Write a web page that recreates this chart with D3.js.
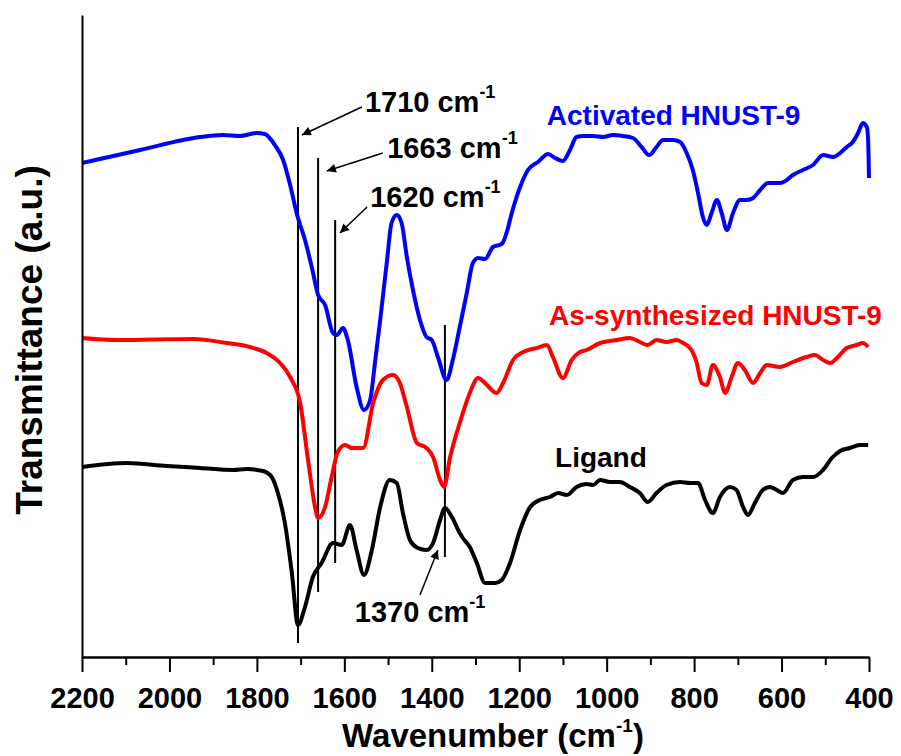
<!DOCTYPE html>
<html lang='en'>
<head>
<meta charset="utf-8">
<script src="https://d3js.org/d3.v7.min.js"></script>
<style>
*{margin:0;padding:0}
body{background:#fff}
svg{display:block;font-family:'Liberation Sans',Arial,sans-serif;font-weight:bold}
</style>
</head>
<body>
<script>
// FTIR spectra, [wavenumber cm-1, transmittance a.u. (offset)]
const activated=[[2200,494],[2067,507],[1930,520],[1878,522],[1839,521],[1800,524],[1782,523],[1759,512],[1740,497],[1724,472],[1708,442],[1690,417],[1674,389],[1660,362],[1644,352],[1626,324],[1617,322],[1603,329],[1592,317],[1572,270],[1555,247],[1541,257],[1530,294],[1518,337],[1503,394],[1492,434],[1480,442],[1469,434],[1457,400],[1443,367],[1427,337],[1412,320],[1400,317],[1386,300],[1366,277],[1352,297],[1336,330],[1320,364],[1306,394],[1294,399],[1278,398],[1260,410],[1240,413],[1229,424],[1217,444],[1198,470],[1180,487],[1157,495],[1134,503],[1118,499],[1100,496],[1084,507],[1069,520],[1054,521],[1031,521],[1008,520],[986,522],[963,521],[940,519],[920,510],[903,502],[886,510],[871,517],[848,517],[832,515],[817,504],[803,487],[791,464],[780,440],[771,432],[760,444],[748,457],[737,444],[725,427],[711,444],[695,457],[680,457],[665,459],[649,467],[631,474],[604,474],[588,477],[574,482],[551,487],[528,492],[505,502],[482,500],[466,504],[451,510],[437,515],[425,524],[414,534],[405,530],[402,517],[400,479]];
const asSynthesized=[[2200,319],[2121,317],[1946,318],[1869,314],[1816,310],[1778,304],[1747,294],[1724,280],[1701,254],[1683,197],[1667,150],[1660,139],[1644,150],[1629,180],[1615,205],[1598,212],[1583,209],[1557,209],[1534,254],[1512,277],[1489,282],[1473,274],[1457,250],[1434,214],[1412,209],[1397,200],[1381,177],[1372,170],[1358,200],[1336,234],[1313,264],[1294,279],[1274,272],[1252,264],[1237,274],[1214,297],[1191,305],[1160,309],[1137,312],[1123,300],[1100,279],[1080,297],[1061,305],[1046,307],[1015,314],[977,317],[947,319],[924,315],[906,312],[886,317],[863,315],[840,317],[825,314],[806,307],[794,294],[783,274],[771,272],[757,292],[741,280],[729,264],[714,280],[700,294],[684,287],[665,274],[649,284],[634,292],[604,290],[574,295],[543,300],[524,302],[505,297],[489,294],[471,300],[451,309],[428,312],[414,314],[402,310]];
const ligand=[[2200,190],[2098,194],[2006,191],[1930,189],[1855,187],[1823,188],[1786,186],[1766,180],[1752,164],[1736,134],[1720,84],[1706,32],[1690,50],[1672,80],[1652,94],[1626,114],[1606,112],[1587,132],[1572,107],[1555,82],[1537,107],[1518,150],[1496,177],[1480,174],[1466,144],[1450,117],[1432,109],[1412,107],[1397,114],[1381,137],[1370,149],[1354,140],[1336,124],[1329,119],[1313,110],[1297,94],[1278,74],[1255,74],[1240,77],[1221,94],[1198,127],[1175,150],[1153,157],[1130,160],[1111,164],[1091,162],[1069,170],[1046,173],[1031,172],[1015,177],[992,175],[970,175],[947,170],[924,164],[906,155],[886,164],[863,172],[832,175],[809,174],[791,174],[775,157],[757,144],[741,160],[718,170],[703,167],[688,150],[677,142],[661,154],[643,167],[627,170],[611,167],[597,164],[574,177],[551,180],[528,180],[505,187],[485,199],[466,206],[444,209],[421,212],[402,212]];

const seriesNames=['Activated HNUST-9','As-synthesized HNUST-9','Ligand'];
const seriesColors=['#0000ff','#ff0000','#000000'];
const seriesLabelAt=[[1137,532],[1132,332],[1118,190]];

const majorTicks=[2200,2000,1800,1600,1400,1200,1000,800,600,400];
const minorTicks=[2100,1900,1700,1500,1300,1100,900,700,500];

// marker lines: wavenumber, top, bottom
const peakLines=[[1706,530,14],[1660,499,65],[1621,437,94],[1370,332,100]];
const peakTexts=['1710','1663','1620','1370'];
const peakTextAt=[[1553,545],[1502,499],[1541,450],[1576,35]];
const peakArrows=[[1560,550,1697,522],[1512,504,1640,486],[1548,450,1610,424],[1427,62,1386,107]];

const width=901,height=756;
const margin={top:15,right:32,bottom:99,left:82};

const x=d3.scaleLinear().domain([2200,400]).range([margin.left,width-margin.right]);
const y=d3.scaleLinear().domain([0,642]).range([height-margin.bottom,margin.top]);

const svg=d3.select('body').append('svg')
    .attr('width',width)
    .attr('height',height);

svg.append('defs').append('marker')
   .attr('id','arrow')
   .attr('viewBox','0 0 10 10')
   .attr('refX',10).attr('refY',5)
   .attr('markerUnits','userSpaceOnUse')
   .attr('markerWidth',13).attr('markerHeight',9)
   .attr('orient','auto')
   .append('path')
   .attr('d','M0,0L10,5L0,10z')
   .attr('fill','#000');

// reference lines
svg.append('g').selectAll('line')
   .data(peakLines)
   .enter()
   .append('line')
   .attr('x1',d=>x(d[0])).attr('x2',d=>x(d[0]))
   .attr('y1',d=>y(d[1])).attr('y2',d=>y(d[2]))
   .attr('stroke','#000')
   .attr('stroke-width',2);

const line=d3.line()
    .x(d=>x(d[0]))
    .y(d=>y(d[1]))
    .curve(d3.curveMonotoneX);

[activated,asSynthesized,ligand].forEach((s,i)=>{
    svg.append('path')
       .datum(s)
       .attr('fill','none')
       .attr('stroke',seriesColors[i])
       .attr('stroke-width',4)
       .attr('stroke-linejoin','round')
       .attr('d',line);
    svg.append('text')
       .attr('x',x(seriesLabelAt[i][0]))
       .attr('y',y(seriesLabelAt[i][1]))
       .attr('font-size',28)
       .attr('fill',seriesColors[i])
       .text(seriesNames[i]);
});

// arrows
svg.append('g').selectAll('line')
   .data(peakArrows)
   .enter()
   .append('line')
   .attr('x1',d=>x(d[0])).attr('y1',d=>y(d[1]))
   .attr('x2',d=>x(d[2])).attr('y2',d=>y(d[3]))
   .attr('stroke','#000')
   .attr('stroke-width',1.5)
   .attr('marker-end','url(#arrow)');

const supText=(t,main,supSize,rise)=>{
    t.append('tspan').text(main);
    t.append('tspan').attr('font-size',supSize).attr('dy',-rise).text('-1');
};

peakTexts.forEach((p,i)=>{
    const t=svg.append('text')
       .attr('x',x(peakTextAt[i][0]))
       .attr('y',y(peakTextAt[i][1]))
       .attr('font-size',29)
       .attr('fill','#000');
    supText(t,p+' cm',18,14);
});

// axes
const xg=svg.append('g')
   .attr('transform',`translate(0,${height-margin.bottom})`)
   .call(d3.axisBottom(x).tickValues(majorTicks).tickSize(15).tickSizeOuter(0).tickFormat(d3.format('d')));
xg.selectAll('text')
  .attr('y',51).attr('dy',0)
  .attr('font-size',29)
  .attr('font-family',"'Liberation Sans',Arial,sans-serif")
  .attr('font-weight','bold')
  .attr('fill','#000');
svg.append('g')
   .attr('transform',`translate(0,${height-margin.bottom})`)
   .call(d3.axisBottom(x).tickValues(minorTicks).tickSize(8).tickSizeOuter(0).tickFormat(''));
svg.append('g')
   .attr('transform',`translate(${margin.left},0)`)
   .call(d3.axisLeft(y).tickValues([]).tickSizeOuter(0));
svg.selectAll('.domain,.tick line')
   .attr('stroke','#000')
   .attr('stroke-width',2);

// axis titles
const xt=svg.append('text')
   .attr('x',493)
   .attr('y',747)
   .attr('text-anchor','middle')
   .attr('font-size',33);
xt.append('tspan').text('Wavenumber (cm');
xt.append('tspan').attr('font-size',19).attr('dy',-15).text('-1');
xt.append('tspan').attr('dy',15).text(')');

svg.append('text')
   .attr('transform','translate(42,340) rotate(-90)')
   .attr('text-anchor','middle')
   .attr('font-size',37)
   .text('Transmittance (a.u.)');
</script>
</body>
</html>
